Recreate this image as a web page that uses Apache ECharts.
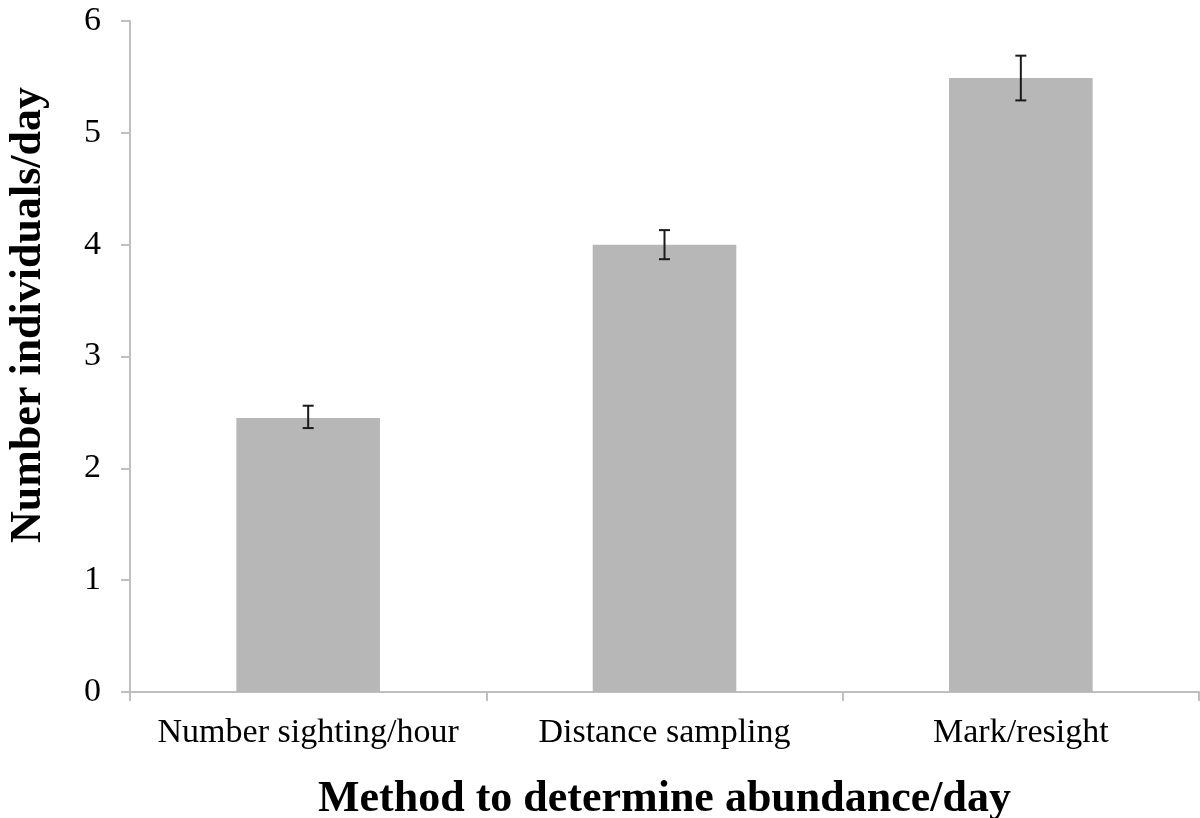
<!DOCTYPE html>
<html><head><meta charset="utf-8">
<script src="https://cdn.jsdelivr.net/npm/echarts@6/dist/echarts.min.js"></script>
<style>html,body{margin:0;padding:0;background:#fff}#c{width:1200px;height:818px}</style>
</head><body><div id="c"></div>
<script>
const categories = ['Number sighting/hour', 'Distance sampling', 'Mark/resight'];
const values = [2.45, 4.0, 5.49];
const errLow = [2.36, 3.87, 5.29];
const errHigh = [2.56, 4.13, 5.69];
const yTicks = [0, 1, 2, 3, 4, 5, 6];
const xTitle = 'Method to determine abundance/day';
const yTitle = 'Number individuals/day';

const font = 'Liberation Serif';
const chart = echarts.init(document.getElementById('c'));
chart.setOption({
  animation: false,
  backgroundColor: '#fff',
  grid: { left: 130, right: 1, top: 21, bottom: 126, containLabel: false, outerBoundsMode: 'none' },
  graphic: [{
    type: 'text', x: 28.5, y: 315, rotation: Math.PI / 2,
    style: { text: yTitle, fontFamily: font, fontSize: 44, fontWeight: 'bold', fill: '#000',
             align: 'center', verticalAlign: 'middle' }
  }],
  xAxis: {
    type: 'category', data: categories,
    name: xTitle, nameLocation: 'middle', nameGap: 86,
    nameTextStyle: { fontFamily: font, fontSize: 44, fontWeight: 'bold', color: '#000' },
    axisLine: { lineStyle: { color: '#bfbfbf', width: 2 } },
    axisTick: { show: true, interval: 0, length: 9, lineStyle: { color: '#bfbfbf', width: 2 } },
    axisLabel: { interval: 0, hideOverlap: false, fontFamily: font, fontSize: 34, color: '#000', margin: 24 }
  },
  yAxis: {
    type: 'value', min: yTicks[0], max: yTicks[yTicks.length - 1], interval: 1,
    axisLine: { show: true, lineStyle: { color: '#bfbfbf', width: 2 } },
    axisTick: { show: true, length: 9, lineStyle: { color: '#bfbfbf', width: 2 } },
    splitLine: { show: false },
    axisLabel: { fontFamily: font, fontSize: 34, color: '#000', margin: 29 }
  },
  series: [
    { type: 'bar', data: values, barWidth: '40.3%', itemStyle: { color: '#b7b7b7' }, z: 2 },
    {
      type: 'custom', z: 5,
      data: categories.map((c, i) => [i, errLow[i], errHigh[i]]),
      renderItem: function (params, api) {
        const x = api.value(0);
        const lo = api.coord([x, api.value(1)]);
        const hi = api.coord([x, api.value(2)]);
        const hw = 5.5;
        const st = { stroke: '#1a1a1a', lineWidth: 2 };
        return { type: 'group', children: [
          { type: 'line', shape: { x1: lo[0], y1: lo[1], x2: hi[0], y2: hi[1] }, style: st },
          { type: 'line', shape: { x1: lo[0] - hw, y1: lo[1], x2: lo[0] + hw, y2: lo[1] }, style: st },
          { type: 'line', shape: { x1: hi[0] - hw, y1: hi[1], x2: hi[0] + hw, y2: hi[1] }, style: st }
        ]};
      }
    }
  ]
});
</script></body></html>
